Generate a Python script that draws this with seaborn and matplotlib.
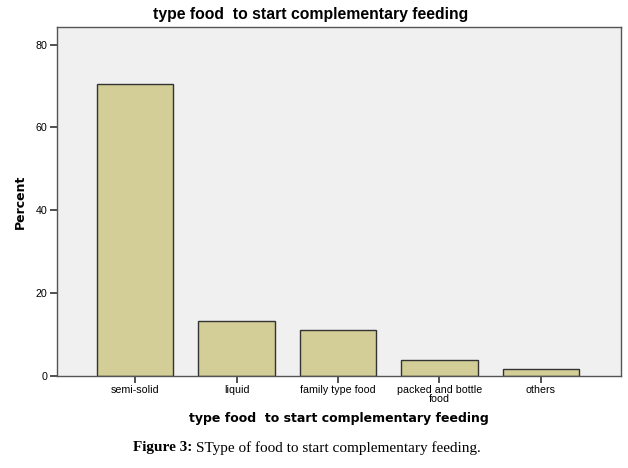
import matplotlib
matplotlib.use("Agg")
import matplotlib.pyplot as plt
import seaborn as sns
import pandas as pd

categories = ["semi-solid", "liquid", "family type food", "packed and bottle\nfood", "others"]
percent = [70.4, 13.2, 11.1, 3.9, 1.6]
yticks = [0, 20, 40, 60, 80]

sns.set_style("white")
plt.rcParams['font.family'] = ['Liberation Sans', 'DejaVu Sans']
plt.rcParams['text.color'] = 'black'
plt.rcParams['axes.labelcolor'] = 'black'

df = pd.DataFrame({"cat": categories, "pct": percent})

fig = plt.figure(figsize=(6.28, 4.68), dpi=100)
ax = fig.add_axes([57/628, 1-375.7/468, 564/628, (375.7-27.3)/468])
ax.set_facecolor("#f0f0f0")
sns.barplot(data=df, x="cat", y="pct", color="#d3ce97", saturation=1,
            edgecolor="#333333", linewidth=1.0, width=0.755, ax=ax)
ax.set_xlim(-0.77, 4.79)
ax.set_ylim(0, 84.2)
ax.set_yticks(yticks)
ax.tick_params(axis="both", which="major", bottom=True, left=True, direction="out",
               length=5, width=1.2, colors="#333333", labelsize=7.7,
               labelcolor="black", pad=2)
for lab in ax.get_xticklabels():
    lab.set_linespacing(0.8)
for s in ax.spines.values():
    s.set_color("#555555")
    s.set_linewidth(1.0)
ax.set_xlabel("type food  to start complementary feeding", fontsize=9,
              fontweight="bold", family=["DejaVu Sans"], labelpad=6)
ax.set_ylabel("Percent", fontsize=9, fontweight="bold", family=["DejaVu Sans"], labelpad=6)
fig.text(311/628, 1-15/468, "type food  to start complementary feeding", fontsize=11.3,
         fontweight="bold", ha="center", va="center")

serif = ["Liberation Serif", "DejaVu Serif"]
y_cap = 1 - 448/468
t1 = fig.text(0, y_cap, "Figure 3: ", ha="left", va="center", fontsize=11,
              family=serif, fontweight="bold")
t2 = fig.text(0, y_cap, "SType of food to start complementary feeding.", ha="left",
              va="center", fontsize=11, family=serif)
fig.canvas.draw()
r = fig.canvas.get_renderer()
w1 = t1.get_window_extent(r).width
w2 = t2.get_window_extent(r).width
x0 = 307 - (w1 + w2) / 2
t1.set_x(x0 / 628)
t2.set_x((x0 + w1) / 628)

fig.savefig("out.png", dpi=100)
